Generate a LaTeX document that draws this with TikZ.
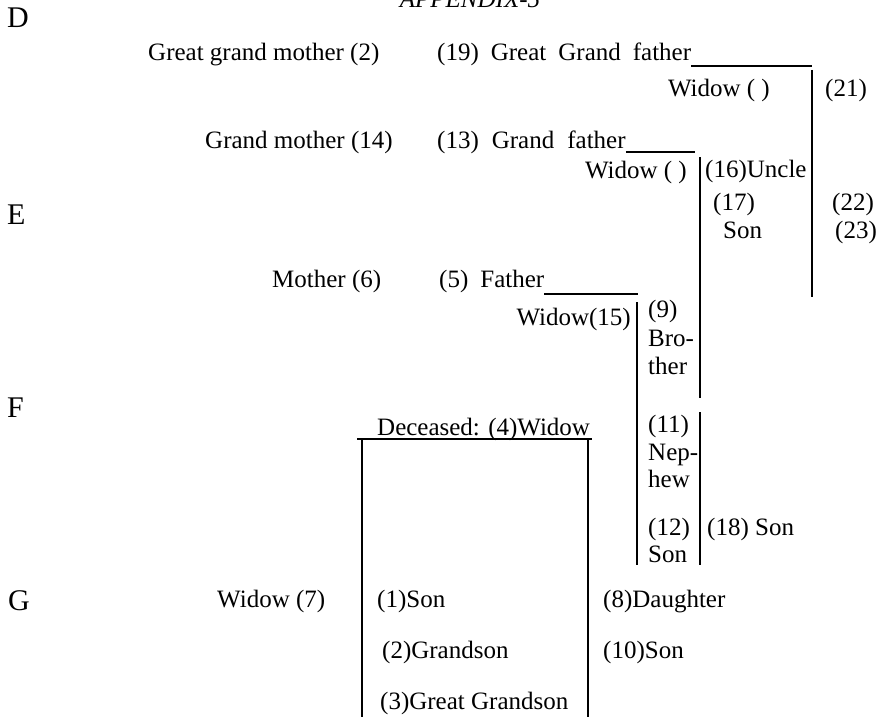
\documentclass[tikz,border=0pt]{standalone}
\usepackage{fontspec}
\setmainfont{Liberation Serif}
\begin{document}
\begin{tikzpicture}[x=1pt,y=-1pt,
  txt/.style={inner sep=0pt, font=\fontsize{25}{28}\selectfont},
  tl/.style={txt, anchor=base west},
  tr/.style={txt, anchor=base east},
  margletter/.style={inner sep=0pt, anchor=base west, font=\fontsize{30}{32}\selectfont},
  ln/.style={line width=1.5pt}]
\useasboundingbox (0,0) rectangle (883,717);
% title (clipped at the top)
\node[txt, anchor=base, font=\fontsize{25}{28}\selectfont\itshape] (title) at (470,8) {APPENDIX-5};
% margin letters
\node[margletter] (D) at (7,28) {D};
\node[margletter] (E) at (7,224) {E};
\node[margletter] (F) at (7,417) {F};
\node[margletter] (G) at (8,610) {G};
% generation of great grandfather
\node[tl] (ggm) at (148,61) {Great grand mother (2)};
\node[tl] (ggf) at (437,61) {(19)\hspace{12pt}Great\hspace{12pt}Grand\hspace{12pt}father};
\coordinate (ggfu) at (812,66);
\draw[ln] ([yshift=-5pt]ggf.base east) -- (ggfu);
\node[tr] (wid1) at (770,96) {Widow ( )};
\node[tl] (n21) at (825,96) {(21)};
\coordinate (l1a) at (812,70);
\coordinate (l1b) at (812,297);
\draw[ln] (l1a) -- (l1b);
% generation of grandfather
\node[tl] (gm) at (205,148) {Grand mother (14)};
\node[tl] (gf) at (437,148) {(13)\hspace{13pt}Grand\hspace{13pt}father};
\coordinate (gfu) at (695,152);
\draw[ln] ([yshift=-4pt]gf.base east) -- (gfu);
\node[tr] (wid2) at (687,178) {Widow ( )};
\node[tl] (n16) at (705,177) {(16)Uncle};
\node[tl] (n17) at (713,210) {(17)};
\node[tl] (n17s) at (723,238) {Son};
\node[tl] (n22) at (832,210) {(22)};
\node[tl] (n23) at (835,238) {(23)};
\coordinate (l2a) at (700,157);
\coordinate (l2b) at (700,398);
\coordinate (l2c) at (700,412);
\coordinate (l2d) at (700,565);
\draw[ln] (l2a) -- (l2b);
\draw[ln] (l2c) -- (l2d);
% generation of father
\node[tl] (mo) at (272,287) {Mother (6)};
\node[tl] (fa) at (439,287) {(5)\hspace{12pt}Father};
\coordinate (fau) at (638,294);
\draw[ln] ([yshift=-7pt]fa.base east) -- (fau);
\node[tr] (wid15) at (631,325) {Widow(15)};
\coordinate (l3a) at (637,302);
\coordinate (l3b) at (637,565);
\draw[ln] (l3a) -- (l3b);
\node[tl] (n9) at (648,317) {(9)};
\node[tl] (n9a) at (648,346) {Bro-};
\node[tl] (n9b) at (648,374) {ther};
\node[tl] (n11) at (648,432) {(11)};
\node[tl] (n11a) at (648,460) {Nep-};
\node[tl] (n11b) at (648,487) {hew};
\node[tl] (n12) at (648,535) {(12)};
\node[tl] (n12s) at (648,562) {Son};
\node[tl] (n18) at (707,535) {(18) Son};
% deceased
\node[tl] (dec) at (377,435) {Deceased: (4)Widow};
\coordinate (bxl) at (357,439);
\coordinate (bxr) at (592,439);
\coordinate (bl1) at (362,439);
\coordinate (bl2) at (362,717);
\coordinate (br1) at (588,439);
\coordinate (br2) at (588,717);
\draw[ln] (bxl) -- (bxr);
\draw[ln] (bl1) -- (bl2);
\draw[ln] (br1) -- (br2);
\node[tl] (w7) at (217,607) {Widow (7)};
\node[tl] (n1) at (377,607) {(1)Son};
\node[tl] (n8) at (603,607) {(8)Daughter};
\node[tl] (n2) at (382,658) {(2)Grandson};
\node[tl] (n10) at (603,658) {(10)Son};
\node[tl] (n3) at (380,709) {(3)Great Grandson};
\end{tikzpicture}
\end{document}
